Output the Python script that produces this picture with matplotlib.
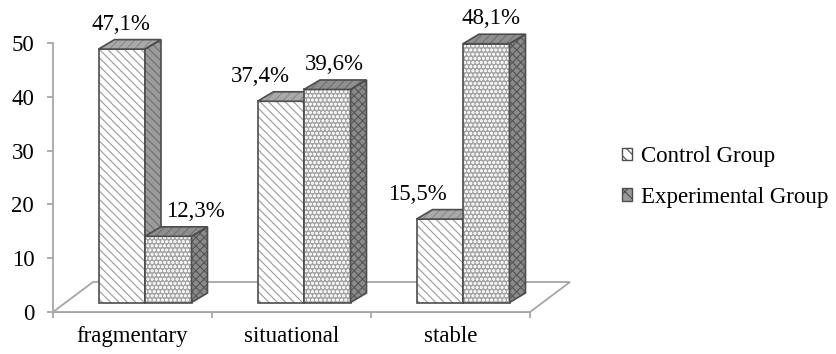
import matplotlib
matplotlib.use("Agg")
import matplotlib.pyplot as plt
from matplotlib.patches import Polygon, Patch

plt.rcParams["font.family"] = ["Liberation Serif", "DejaVu Serif"]
plt.rcParams["hatch.linewidth"] = 0.8

categories = ["fragmentary", "situational", "stable"]
series_names = ["Control Group", "Experimental Group"]
control = [47.1, 37.4, 15.5]
experimental = [12.3, 39.6, 48.1]
y_ticks = [0, 10, 20, 30, 40, 50]

# label nudges (pixels) so the value texts don't collide
label_dx = [[-1, -20, -22], [27, 7, 5]]

FS = 16.5
W, H, DPI = 837, 354, 100
fig = plt.figure(figsize=(W / DPI, H / DPI), dpi=DPI)
ax_l, ax_r, ax_t, ax_b = 53, 530, 43, 312
ax = fig.add_axes([ax_l / W, (H - ax_b) / H, (ax_r - ax_l) / W, (ax_b - ax_t) / H])
ax.set_xlim(0, len(categories))
ax.set_ylim(0, 50)

px_x = (ax_r - ax_l) / len(categories)   # pixels per category unit
px_y = (ax_b - ax_t) / 50.0              # pixels per value unit

def ux(p):
    return p / px_x

def uy(p):
    return p / px_y

# 3-D geometry (in pixels)
floor_dx, floor_dy = 40, 30
front_dx, front_dy = 12.5, 9.5
depth_dx, depth_dy = 16, 9.5
bar_w = ux(46.5)

grey_edge = "#a6a6a6"
dark_edge = "#4d4d4d"

# floor
n = len(categories)
floor = Polygon([(0, 0), (n, 0), (n + ux(floor_dx), uy(floor_dy)), (ux(floor_dx), uy(floor_dy))],
                closed=True, facecolor="white", edgecolor=grey_edge, lw=1.3,
                clip_on=False, zorder=1)
ax.add_patch(floor)

styles = [
    dict(front_fc="white", front_h="\\\\\\\\", front_hc="#9a9a9a",
         top_fc="#a9a9a9", top_h="////", top_hc="#8c8c8c",
         side_fc="#9b9b9b", side_h="\\\\\\\\", side_hc="#6f6f6f"),
    dict(front_fc="#a5a5a5", front_h="oooo", front_hc="#f4f4f4",
         top_fc="#8f8f8f", top_h="////", top_hc="#707070",
         side_fc="#8a8a8a", side_h="xxxx", side_hc="#555555"),
]

def face(points, fc, hatch, hc, z):
    ax.add_patch(Polygon(points, closed=True, facecolor=fc, edgecolor="none",
                         clip_on=False, zorder=z))
    ax.add_patch(Polygon(points, closed=True, fill=False, hatch=hatch, edgecolor=hc,
                         lw=0, clip_on=False, zorder=z + 0.1))
    ax.add_patch(Polygon(points, closed=True, fill=False, edgecolor=dark_edge,
                         lw=1.2, clip_on=False, zorder=z + 0.2))

z = 2
for i, cat in enumerate(categories):
    center = i + 0.5 + ux(front_dx)
    for j, vals in enumerate([control, experimental]):
        v = vals[i]
        st = styles[j]
        x0 = center - bar_w + j * bar_w
        y0 = uy(front_dy)
        y1 = y0 + v
        ddx, ddy = ux(depth_dx), uy(depth_dy)
        # front face through the bar API
        ax.bar(x0, v, width=bar_w, bottom=y0, align="edge", color=st["front_fc"],
               edgecolor="none", clip_on=False, zorder=z)
        ax.bar(x0, v, width=bar_w, bottom=y0, align="edge", fill=False,
               hatch=st["front_h"], edgecolor=st["front_hc"], lw=0, clip_on=False, zorder=z + 0.1)
        ax.bar(x0, v, width=bar_w, bottom=y0, align="edge", fill=False,
               edgecolor=dark_edge, lw=1.2, clip_on=False, zorder=z + 0.2)
        face([(x0, y1), (x0 + bar_w, y1), (x0 + bar_w + ddx, y1 + ddy), (x0 + ddx, y1 + ddy)],
             st["top_fc"], st["top_h"], st["top_hc"], z + 0.3)
        face([(x0 + bar_w, y0), (x0 + bar_w + ddx, y0 + ddy), (x0 + bar_w + ddx, y1 + ddy),
              (x0 + bar_w, y1)], st["side_fc"], st["side_h"], st["side_hc"], z + 0.3)
        ax.annotate(f"{v:.1f}%".replace(".", ","), xy=(x0 + bar_w / 2, y1),
                    xytext=(label_dx[j][i], 25), textcoords="offset pixels",
                    ha="center", va="center", fontsize=FS, zorder=20,
                    annotation_clip=False)
        z += 1

# axes styling
for s in ["top", "right"]:
    ax.spines[s].set_visible(False)
for s in ["left", "bottom"]:
    ax.spines[s].set_color(grey_edge)
    ax.spines[s].set_linewidth(1.3)
ax.spines["bottom"].set_zorder(0.5)

ax.set_yticks(y_ticks)
ax.set_yticklabels([str(t) for t in y_ticks])
ax.set_xticks(range(n + 1))
ax.set_xticklabels([""] * (n + 1))
ax.set_xticks([i + 0.5 for i in range(n)], minor=True)
ax.set_xticklabels(categories, minor=True)
ax.tick_params(axis="both", which="major", color=grey_edge, length=4.5, width=1.3,
               direction="out", labelsize=FS)
ax.tick_params(axis="y", pad=9)
ax.tick_params(axis="x", which="minor", length=0, pad=10, labelsize=FS)
ax.patch.set_visible(False)

handles = [
    Patch(facecolor="white", edgecolor=dark_edge, hatch="\\\\\\", lw=1),
    Patch(facecolor="#9a9a9a", edgecolor=dark_edge, hatch="xx", lw=1),
]
fig.legend(handles, series_names, loc="center left", bbox_to_anchor=(622 / W, 1 - 177 / H),
           frameon=False, fontsize=FS, handlelength=0.45, handleheight=0.45,
           handletextpad=0.4, labelspacing=0.85, borderpad=0, borderaxespad=0)

fig.savefig("out.png", dpi=DPI)
